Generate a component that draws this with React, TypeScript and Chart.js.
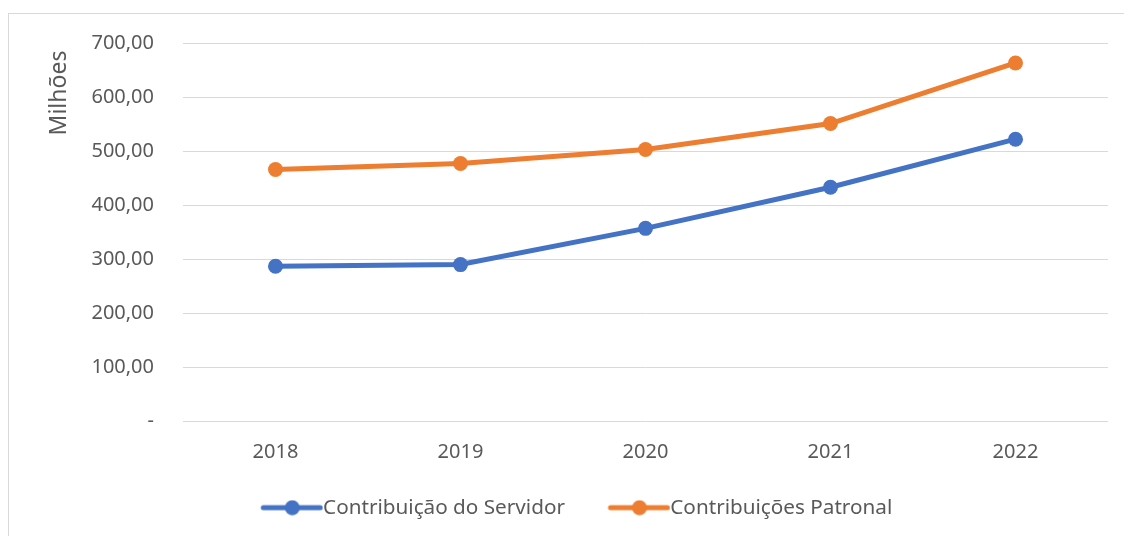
import React, { useEffect, useRef } from "react";
import { Chart, registerables } from "chart.js";

Chart.register(...registerables);

const categories = ["2018", "2019", "2020", "2021", "2022"];
const servidor = [287, 290, 357, 433, 522];
const patronal = [466, 477, 503, 551, 663];
const seriesNames = ["Contribuição do Servidor", "Contribuições Patronal"];
const colors = ["#4472C4", "#ED7D31"];
const yTicks = { min: 0, max: 700, step: 100 };
const yTitle = "Milhões";

const FONT = "'Noto Sans', 'DejaVu Sans', sans-serif";
const TEXT = "#595959";
const LEG_FS = 20.7;
const LEG_W = 85;

function makeIcon(color: string): HTMLCanvasElement {
  const c = document.createElement("canvas");
  const w = Math.round(LEG_W + LEG_FS);
  c.width = w;
  c.height = 16;
  const ctx = c.getContext("2d")!;
  ctx.strokeStyle = color;
  ctx.lineWidth = 5;
  ctx.lineCap = "round";
  ctx.beginPath();
  ctx.moveTo(w - 60, 8);
  ctx.lineTo(w - 3, 8);
  ctx.stroke();
  ctx.fillStyle = color;
  ctx.beginPath();
  ctx.arc(w - 31, 8, 7.5, 0, Math.PI * 2);
  ctx.fill();
  return c;
}

const yTitlePlugin = {
  id: "yTitlePlugin",
  afterDraw(chart: any) {
    const ctx = chart.ctx;
    const area = chart.chartArea;
    ctx.save();
    ctx.translate(59, area.top + 50);
    ctx.rotate(-Math.PI / 2);
    ctx.font = `23px ${FONT}`;
    ctx.fillStyle = TEXT;
    ctx.textAlign = "center";
    ctx.textBaseline = "middle";
    ctx.fillText(yTitle, 0, 0);
    ctx.restore();
  },
};

export default function App() {
  const ref = useRef<HTMLCanvasElement | null>(null);
  useEffect(() => {
    if (!ref.current) return;
    const icons = colors.map(makeIcon);
    const chart = new Chart(ref.current, {
      type: "line",
      data: {
        labels: categories,
        datasets: [servidor, patronal].map((d, i) => ({
          label: seriesNames[i],
          data: d,
          borderColor: colors[i],
          backgroundColor: colors[i],
          borderWidth: 5,
          pointRadius: 7.5,
          pointBorderWidth: 0,
          pointBackgroundColor: colors[i],
          pointStyle: "circle",
          tension: 0,
        })),
      },
      plugins: [yTitlePlugin],
      options: {
        responsive: false,
        animation: false,
        layout: { padding: { left: 12, right: 16, top: 43, bottom: 8 } },
        plugins: {
          tooltip: { enabled: false },
          legend: {
            position: "bottom",
            labels: {
              usePointStyle: true,
              pointStyleWidth: LEG_W,
              padding: 10,
              color: TEXT,
              font: { family: FONT, size: LEG_FS },
              generateLabels: (ch: any) =>
                ch.data.datasets.map((ds: any, i: number) => ({
                  text: ds.label,
                  fillStyle: colors[i],
                  strokeStyle: colors[i],
                  lineWidth: 0,
                  pointStyle: icons[i],
                  hidden: false,
                  datasetIndex: i,
                  fontColor: TEXT,
                })),
            },
          },
        },
        scales: {
          x: {
            offset: true,
            grid: { display: false, drawTicks: false },
            border: { display: false },
            ticks: { color: TEXT, font: { family: FONT, size: 20 }, padding: 19 },
            afterFit: (s: any) => {
              s.height = 66;
            },
          },
          y: {
            min: yTicks.min,
            max: yTicks.max,
            grid: { color: "#d9d9d9", lineWidth: 1, drawTicks: false },
            border: { display: false },
            ticks: {
              stepSize: yTicks.step,
              color: TEXT,
              font: { family: FONT, size: 20 },
              padding: 29,
              callback: (v: any) =>
                Number(v) === 0 ? "-" : Number(v).toFixed(2).replace(".", ","),
            },
            afterFit: (s: any) => {
              s.width = 171;
            },
          },
        },
      },
    });
    return () => chart.destroy();
  }, []);
  return (
    <div style={{ position: "absolute", left: 0, top: 0, width: 1124, height: 536, overflow: "hidden", background: "#fff" }}>
      <div
        style={{
          position: "absolute",
          left: 8,
          top: 13,
          width: 1140,
          height: 560,
          border: "1px solid #d9d9d9",
        }}
      />
      <canvas ref={ref} width={1124} height={536} style={{ position: "absolute", left: 0, top: 0 }} />
    </div>
  );
}
